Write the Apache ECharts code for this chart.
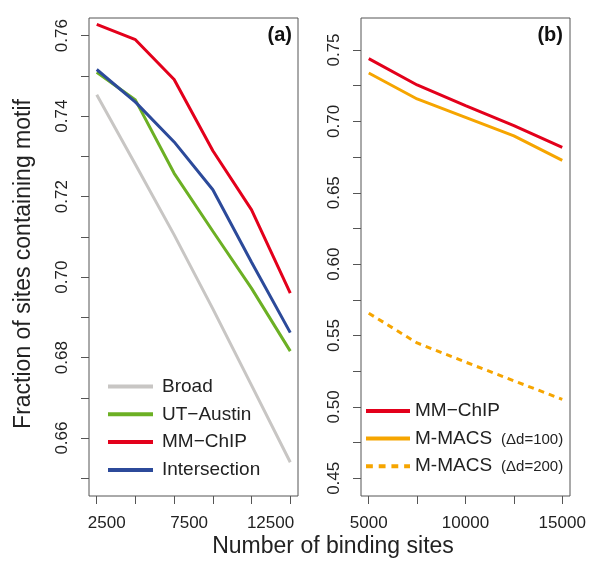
<!DOCTYPE html>
<html><head><meta charset="utf-8">
<script src="https://cdn.jsdelivr.net/npm/echarts@6/dist/echarts.min.js"></script>
<style>html,body{margin:0;padding:0;background:#fff}#c{width:600px;height:565px}</style>
</head><body><div id="c"></div>
<script>
// ---- data (panel a) ----
const sitesA = [2500, 5000, 7500, 10000, 12500, 15000];
const broad = [0.7453, 0.7280, 0.7105, 0.6921, 0.6731, 0.6540];
const utAustin = [0.7509, 0.7440, 0.7258, 0.7114, 0.6972, 0.6816];
const mmChipA = [0.7628, 0.7590, 0.7491, 0.7314, 0.7167, 0.6960];
const intersection = [0.7516, 0.7435, 0.7336, 0.7217, 0.7037, 0.6862];
// ---- data (panel b) ----
const sitesB = [5000, 7500, 10000, 12500, 15000];
const mmChipB = [0.7439, 0.7255, 0.7110, 0.6970, 0.6818];
const mmacs100 = [0.7339, 0.7157, 0.7028, 0.6898, 0.6727];
const mmacs200 = [0.5656, 0.5448, 0.5314, 0.5183, 0.5053];
// ---- ticks / labels ----
const xLabelsA = [2500, 7500, 12500];
const xLabelsB = [5000, 10000, 15000];
const yTicksA = [0.65, 0.66, 0.67, 0.68, 0.69, 0.70, 0.71, 0.72, 0.73, 0.74, 0.75, 0.76];
const yLabelsA = [0.66, 0.68, 0.70, 0.72, 0.74, 0.76];
const yTicksB = [0.45, 0.475, 0.50, 0.525, 0.55, 0.575, 0.60, 0.625, 0.65, 0.675, 0.70, 0.725, 0.75];
const yLabelsB = [0.45, 0.50, 0.55, 0.60, 0.65, 0.70, 0.75];

const FONT = 'Liberation Sans, Arial, Helvetica, sans-serif';
const AX = '#555';
const TXT = '#222';
const C = {gray: '#C8C6C4', green: '#6CB024', red: '#E3001B', blue: '#2C4A9A', orange: '#F6A500'};
const LINE_ICON = 'rect';
const DASH_ICON = 'path://M0,0h7v4h-7z M13,0h7v4h-7z M26,0h7v4h-7z M39,0h6v4h-6z';

const pairs = (xs, ys) => xs.map((x, i) => [x, ys[i]]);

function yAxis(grid, min, max, ticks, labels) {
  return {
    type: 'value', gridIndex: grid, min: min, max: max,
    axisLine: {show: false}, splitLine: {show: false},
    axisTick: {show: true, customValues: ticks, length: 8, lineStyle: {color: AX, width: 1}},
    axisLabel: {customValues: labels, rotate: 90, margin: 18, fontSize: 17, fontFamily: FONT, color: TXT,
      formatter: v => v.toFixed(2)}
  };
}

const shiftA = {2500: 'a', 7500: 'b', 12500: 'c'};
const richBase = {fontSize: 17, fontFamily: FONT, color: TXT};

const option = {
  backgroundColor: '#fff',
  animation: false,
  grid: [
    {left: 89, right: 302, top: 18, bottom: 69, show: true, borderColor: AX, borderWidth: 1, backgroundColor: 'transparent'},
    {left: 361, right: 30, top: 18, bottom: 69, show: true, borderColor: AX, borderWidth: 1, backgroundColor: 'transparent'}
  ],
  xAxis: [
    {type: 'value', gridIndex: 0, min: 2000, max: 15500,
      axisLine: {show: false}, splitLine: {show: false},
      axisTick: {show: true, customValues: sitesA, length: 8, lineStyle: {color: AX}},
      axisLabel: {customValues: xLabelsA, margin: 19, fontSize: 17, fontFamily: FONT, color: TXT,
        formatter: v => '{' + shiftA[v] + '|' + v + '}',
        rich: {
          a: Object.assign({padding: [0, 0, 0, 20]}, richBase),
          b: Object.assign({padding: [0, 0, 0, 30]}, richBase),
          c: Object.assign({padding: [0, 0, 0, 38]}, richBase)
        }}},
    {type: 'value', gridIndex: 1, min: 4600, max: 15400,
      axisLine: {show: false}, splitLine: {show: false},
      axisTick: {show: true, customValues: sitesB, length: 8, lineStyle: {color: AX}},
      axisLabel: {customValues: xLabelsB, margin: 19, fontSize: 17, fontFamily: FONT, color: TXT,
        formatter: v => String(v)}}
  ],
  yAxis: [
    yAxis(0, 0.6456, 0.7644, yTicksA, yLabelsA),
    yAxis(1, 0.4376, 0.7724, yTicksB, yLabelsB)
  ],
  legend: [
    {orient: 'vertical', left: 108, top: 376.5, padding: 0, itemWidth: 45, itemHeight: 4, itemGap: 7.8,
      data: [
        {name: 'Broad', icon: LINE_ICON},
        {name: 'UT\u2212Austin', icon: LINE_ICON},
        {name: 'MM\u2212ChIP', icon: LINE_ICON},
        {name: 'Intersection', icon: LINE_ICON}
      ],
      textStyle: {fontSize: 19, fontFamily: FONT, color: TXT, padding: [0, 0, 0, 4], lineHeight: 20}},
    {orient: 'vertical', left: 366, top: 401, padding: 0, itemWidth: 44, itemHeight: 4, itemGap: 7.6,
      data: [
        {name: 'MM\u2212ChIP ', icon: LINE_ICON},
        {name: 'M-MACS 100', icon: LINE_ICON},
        {name: 'M-MACS 200', icon: DASH_ICON}
      ],
      formatter: n => n === 'M-MACS 100' ? 'M-MACS{s|(\u0394d=100)}' : (n === 'M-MACS 200' ? 'M-MACS{s|(\u0394d=200)}' : n),
      textStyle: {fontSize: 19, fontFamily: FONT, color: TXT, lineHeight: 20,
        rich: {s: {fontSize: 15, fontFamily: FONT, color: TXT, padding: [2, 0, 0, 9]}}}}
  ],
  series: [
    {name: 'Broad', type: 'line', xAxisIndex: 0, yAxisIndex: 0, data: pairs(sitesA, broad), symbol: 'none', lineStyle: {width: 3, color: C.gray}, itemStyle: {color: C.gray}},
    {name: 'UT\u2212Austin', type: 'line', xAxisIndex: 0, yAxisIndex: 0, data: pairs(sitesA, utAustin), symbol: 'none', lineStyle: {width: 3, color: C.green}, itemStyle: {color: C.green}},
    {name: 'MM\u2212ChIP', type: 'line', xAxisIndex: 0, yAxisIndex: 0, data: pairs(sitesA, mmChipA), symbol: 'none', lineStyle: {width: 3, color: C.red}, itemStyle: {color: C.red}},
    {name: 'Intersection', type: 'line', xAxisIndex: 0, yAxisIndex: 0, data: pairs(sitesA, intersection), symbol: 'none', lineStyle: {width: 3, color: C.blue}, itemStyle: {color: C.blue}},
    {name: 'MM\u2212ChIP ', type: 'line', xAxisIndex: 1, yAxisIndex: 1, data: pairs(sitesB, mmChipB), symbol: 'none', lineStyle: {width: 3, color: C.red}, itemStyle: {color: C.red}},
    {name: 'M-MACS 100', type: 'line', xAxisIndex: 1, yAxisIndex: 1, data: pairs(sitesB, mmacs100), symbol: 'none', lineStyle: {width: 3, color: C.orange}, itemStyle: {color: C.orange}},
    {name: 'M-MACS 200', type: 'line', xAxisIndex: 1, yAxisIndex: 1, data: pairs(sitesB, mmacs200), symbol: 'none', lineStyle: {width: 3, color: C.orange, type: [6, 5]}, itemStyle: {color: C.orange}}
  ],
  graphic: [
    {type: 'text', x: 292, y: 35, style: {text: '(a)', font: 'bold 20px ' + FONT, fill: '#111', textAlign: 'right', textVerticalAlign: 'middle'}},
    {type: 'text', x: 563, y: 35, style: {text: '(b)', font: 'bold 20px ' + FONT, fill: '#111', textAlign: 'right', textVerticalAlign: 'middle'}},
    {type: 'text', x: 333, y: 547, style: {text: 'Number of binding sites', font: '23px ' + FONT, fill: TXT, textAlign: 'center', textVerticalAlign: 'middle'}},
    {type: 'text', x: 24, y: 264, rotation: Math.PI / 2, style: {text: 'Fraction of sites containing motif', font: '23px ' + FONT, fill: TXT, textAlign: 'center', textVerticalAlign: 'middle'}}
  ]
};
const chart = echarts.init(document.getElementById('c'), null, {renderer: 'canvas'});
chart.setOption(option);
</script>
</body></html>
